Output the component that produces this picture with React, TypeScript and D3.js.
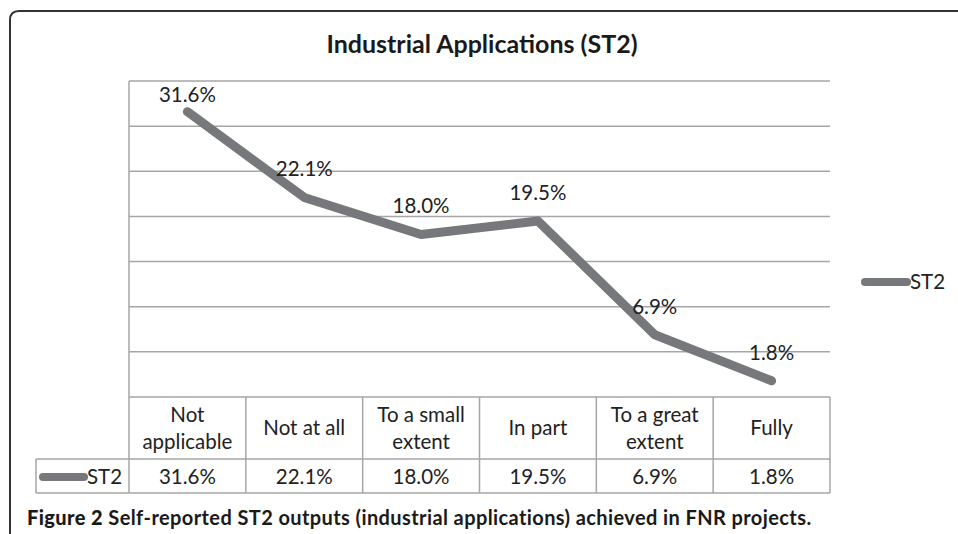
import React from 'react'
import { scaleBand, scaleLinear, line } from 'd3'

const categories = ['Not applicable', 'Not at all', 'To a small extent', 'In part', 'To a great extent', 'Fully']
const categoryLines = [['Not', 'applicable'], ['Not at all'], ['To a small', 'extent'], ['In part'], ['To a great', 'extent'], ['Fully']]
const st2 = [31.6, 22.1, 18.0, 19.5, 6.9, 1.8]
const yTicks = [0, 5, 10, 15, 20, 25, 30, 35]
const seriesName = 'ST2'

const W = 958
const H = 534
const plot = { left: 129, right: 830, top: 81, bottom: 397 }
const headRowBottom = 459
const valRowBottom = 493
const tableLeft = 36

const lineColor = '#77787b'
const gridColor = '#a6a6a6'
const font = 'Lato, "Liberation Sans", sans-serif'
const fs = 20.5

const App = () => {
  const x = scaleBand<string>().domain(categories).range([plot.left, plot.right])
  const y = scaleLinear().domain([0, 35]).range([plot.bottom, plot.top])
  const cx = (c: string) => (x(c) as number) + x.bandwidth() / 2

  const path = line<number>()
    .x((_, i) => cx(categories[i]))
    .y(d => y(d))(st2)

  const fmt = (v: number) => v.toFixed(1) + '%'

  return (
    <svg width={W} height={H} style={{ position: 'absolute', left: 0, top: 0 }} fontFamily={font}>
      <rect width={W} height={H} fill="#fff" />
      {/* outer frame, cut off at right and bottom */}
      <path d={`M10,${H + 5} L10,20 Q10,11 19,11 L${W + 5},11`} fill="none" stroke="#333" strokeWidth={2} />

      <text x={482} y={53} textAnchor="middle" fontSize={25} fontWeight="bold" fill="#1a1a1a">
        Industrial Applications (ST2)
      </text>

      {/* gridlines */}
      {yTicks.map(t => (
        <line key={t} x1={plot.left} x2={plot.right} y1={y(t)} y2={y(t)} stroke={gridColor} strokeWidth={1.5} />
      ))}
      <line x1={plot.left} x2={plot.left} y1={plot.top} y2={headRowBottom} stroke={gridColor} strokeWidth={1.5} />

      {/* data table */}
      {categories.map(c => (
        <line key={c} x1={(x(c) as number) + x.bandwidth()} x2={(x(c) as number) + x.bandwidth()}
          y1={plot.bottom} y2={valRowBottom} stroke={gridColor} strokeWidth={1.5} />
      ))}
      <line x1={tableLeft} x2={plot.right} y1={headRowBottom} y2={headRowBottom} stroke={gridColor} strokeWidth={1.5} />
      <line x1={tableLeft} x2={plot.right} y1={valRowBottom} y2={valRowBottom} stroke={gridColor} strokeWidth={1.5} />
      <line x1={tableLeft} x2={tableLeft} y1={headRowBottom} y2={valRowBottom} stroke={gridColor} strokeWidth={1.5} />
      <line x1={plot.left} x2={plot.left} y1={headRowBottom} y2={valRowBottom} stroke={gridColor} strokeWidth={1.5} />

      {categoryLines.map((ls, i) => (
        <text key={i} x={cx(categories[i])} textAnchor="middle" fontSize={fs} fill="#222">
          {ls.map((t, j) => (
            <tspan key={j} x={cx(categories[i])}
              y={(plot.bottom + headRowBottom) / 2 + 7 + (j - (ls.length - 1) / 2) * 27}>{t}</tspan>
          ))}
        </text>
      ))}
      {st2.map((v, i) => (
        <text key={i} x={cx(categories[i])} y={484} textAnchor="middle" fontSize={fs} fill="#222">{fmt(v)}</text>
      ))}
      <line x1={43} x2={84} y1={477} y2={477} stroke={lineColor} strokeWidth={8} strokeLinecap="round" />
      <text x={87} y={484} fontSize={fs} fill="#222">{seriesName}</text>

      {/* series */}
      <path d={path || ''} fill="none" stroke={lineColor} strokeWidth={9} strokeLinecap="round" strokeLinejoin="round" />
      {st2.map((v, i) => (
        <text key={i} x={cx(categories[i])} y={Math.max(y(v) - 28, plot.top + 14) + 7}
          textAnchor="middle" fontSize={fs} fill="#222">{fmt(v)}</text>
      ))}

      {/* legend */}
      <line x1={865} x2={907} y1={282} y2={282} stroke={lineColor} strokeWidth={8} strokeLinecap="round" />
      <text x={910} y={289} fontSize={fs} fill="#222">{seriesName}</text>

      <text x={27} y={525} fontSize={20} fontWeight="bold" letterSpacing={0.4} fill="#1a1a1a">
        <tspan fontWeight={900}>Figure 2</tspan> Self-reported ST2 outputs (industrial applications) achieved in FNR projects.
      </text>
    </svg>
  )
}

export default App
